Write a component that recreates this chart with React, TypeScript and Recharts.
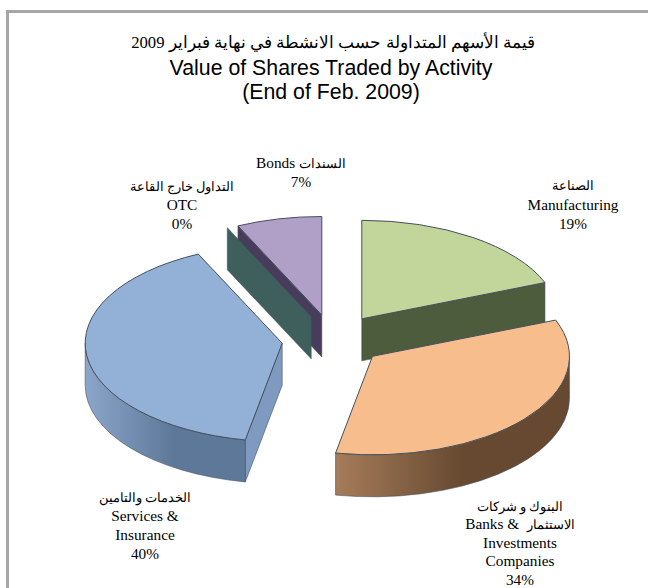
import { Pie, PieChart } from "recharts";

const CATEGORIES = ["Manufacturing", "Banks", "Services", "OTC", "Bonds"];
const SHARES = [19, 34, 40, 0, 7];

const TITLE_LINES = [
  "قيمة الأسهم المتداولة حسب الانشطة في نهاية فبراير 2009",
  "Value of Shares Traded by Activity",
  "(End of Feb. 2009)",
];

const LABEL_LINES = [
  ["الصناعة", "Manufacturing", "19%"],
  ["البنوك و شركات", "Banks &\u00a0\u00a0الاستثمار", "Investments", "Companies", "34%"],
  ["الخدمات والتامين", "Services &", "Insurance", "40%"],
  ["التداول خارج القاعة", "OTC", "0%"],
  ["Bonds السندات", "7%"],
];

const LABEL_X = [573, 520, 145, 182, 301];
const LABEL_Y = [190, 511, 502, 191, 168];
const LABEL_STEP = [19.5, 18.4, 19, 19, 19];

const TOP_COLORS = ["#c2d69b", "#f8bd8c", "#93b1d7", "#3e5f5c", "#b09fc6"];
const WALL_COLORS = ["#4e5c3e", "#6d4e36", "#7f9ac0", "#3e5f5c", "#483c5c"];
const RIM_LEFT = ["#4e5c3e", "#a67c5a", "#8ba6c8", "#3e5f5c", "#483c5c"];
const RIM_RIGHT = ["#4e5c3e", "#664930", "#5d7899", "#3e5f5c", "#483c5c"];

const WIDTH = 648;
const HEIGHT = 588;
const RX = 197;
const TILT = 0.5;
const DEPTH = 42;
const EXPLODE = 0.26;

const pieData = CATEGORIES.map((name, i) => ({ name, value: SHARES[i] }));

const rad = (deg: number) => (deg * Math.PI) / 180;

function Slice3D(props: any) {
  const { cx, cy, outerRadius, startAngle, endAngle, name } = props;
  const i = CATEGORIES.indexOf(name);
  const rx = outerRadius;
  const ry = outerRadius * TILT;
  const mid = rad((startAngle + endAngle) / 2);
  // the slice is pulled out along its middle angle
  const ax = cx + EXPLODE * rx * Math.cos(mid);
  const ay = cy - EXPLODE * ry * Math.sin(mid);
  const pt = (deg: number) => [
    ax + rx * Math.cos(rad(deg)),
    ay - ry * Math.sin(rad(deg)),
  ];
  const [sx, sy] = pt(startAngle);
  const [ex, ey] = pt(endAngle);
  const large = Math.abs(startAngle - endAngle) > 180 ? 1 : 0;
  const top = `M${ax},${ay} L${sx},${sy} A${rx},${ry} 0 ${large} 1 ${ex},${ey} Z`;

  const wall = (x: number, y: number) =>
    `M${ax},${ay} L${x},${y} L${x},${y + DEPTH} L${ax},${ay + DEPTH} Z`;
  const showStart = Math.cos(rad(startAngle)) < 0;
  const showEnd = Math.cos(rad(endAngle)) > 0;

  // outer rim, only the part that faces the viewer
  const a1 = Math.min(startAngle, 0);
  const a2 = Math.max(endAngle, -180);
  let rim = "";
  if (a1 > a2) {
    const [x1, y1] = pt(a1);
    const [x2, y2] = pt(a2);
    rim = `M${x1},${y1} A${rx},${ry} 0 0 1 ${x2},${y2} L${x2},${y2 + DEPTH} A${rx},${ry} 0 0 0 ${x1},${y1 + DEPTH} Z`;
  }
  const gradId = `rim-${i}`;
  const edge = "#46505c";

  return (
    <g>
      <defs>
        <linearGradient id={gradId} x1="0" y1="0" x2="1" y2="0">
          <stop offset="0%" stopColor={RIM_LEFT[i]} />
          <stop offset="55%" stopColor={RIM_RIGHT[i]} />
          <stop offset="100%" stopColor={RIM_RIGHT[i]} />
        </linearGradient>
      </defs>
      {showStart && <path d={wall(sx, sy)} fill={WALL_COLORS[i]} stroke={edge} strokeWidth={0.6} />}
      {showEnd && <path d={wall(ex, ey)} fill={WALL_COLORS[i]} stroke={edge} strokeWidth={0.6} />}
      {rim && <path d={rim} fill={`url(#${gradId})`} stroke={edge} strokeWidth={0.6} />}
      {startAngle !== endAngle && <path d={top} fill={TOP_COLORS[i]} stroke={edge} strokeWidth={1} />}
    </g>
  );
}

// the 0% slice sits in front of the wall of Bonds, so it gets painted in a second pass
const isEmptySlice = (props: any) => SHARES[CATEGORIES.indexOf(props.name)] === 0;
const FilledSlice = (props: any) => (isEmptySlice(props) ? <g /> : <Slice3D {...props} />);
const EmptySlice = (props: any) => (isEmptySlice(props) ? <Slice3D {...props} /> : <g />);

// Arabic falls back to a wider font than the reference, so it is set smaller
function LabelLine({ line, size }: { line: string; size: number }) {
  const parts = line.split(/([\u0600-\u06FF][\u0600-\u06FF ]*)/).filter(Boolean);
  return (
    <>
      {parts.map((part, k) => (
        <tspan key={k} fontSize={/[\u0600-\u06FF]/.test(part) ? size : 15.3}>
          {part}
        </tspan>
      ))}
    </>
  );
}

function SliceLabel(props: any) {
  const i = CATEGORIES.indexOf(props.name);
  return (
    <text
      textAnchor="middle"
      fontFamily='"Liberation Serif", serif'
      fontSize={15.3}
      fill="#000"
    >
      {LABEL_LINES[i].map((line, k) => (
        <tspan key={k} x={LABEL_X[i]} y={LABEL_Y[i] + k * LABEL_STEP[i]}>
          <LabelLine line={line} size={13} />
        </tspan>
      ))}
    </text>
  );
}

export default function App() {
  return (
    <div style={{ position: "absolute", left: 0, top: 0, width: WIDTH, height: HEIGHT, overflow: "hidden", background: "#fff" }}>
      <div
        style={{
          position: "absolute",
          left: 6,
          top: 10,
          width: 700,
          height: 700,
          border: "3px solid #a6a6a6",
        }}
      />
      <div style={{ position: "absolute", left: 0, top: 0 }}>
        <PieChart width={WIDTH} height={HEIGHT} margin={{ top: 0, right: 0, bottom: 0, left: 0 }}>
          <text textAnchor="middle" fill="#000">
            <tspan x={333} y={48} fontFamily='"Liberation Serif", serif' fontSize={16.7}>
              {TITLE_LINES[0]}
            </tspan>
            <tspan x={331} y={75} fontFamily='"Liberation Sans", sans-serif' fontSize={21.3}>
              {TITLE_LINES[1]}
            </tspan>
            <tspan x={331} y={99} fontFamily='"Liberation Sans", sans-serif' fontSize={21.3}>
              {TITLE_LINES[2]}
            </tspan>
          </text>
          <Pie
            data={pieData}
            dataKey="value"
            nameKey="name"
            cx={333}
            cy={340}
            innerRadius={0}
            outerRadius={RX}
            startAngle={90}
            endAngle={-270}
            paddingAngle={0}
            stroke="none"
            isAnimationActive={false}
            shape={FilledSlice}
            label={SliceLabel}
            labelLine={false}
          />
          <Pie
            data={pieData}
            dataKey="value"
            nameKey="name"
            cx={333}
            cy={340}
            innerRadius={0}
            outerRadius={RX}
            startAngle={90}
            endAngle={-270}
            paddingAngle={0}
            stroke="none"
            isAnimationActive={false}
            shape={EmptySlice}
            label={false}
            labelLine={false}
          />
        </PieChart>
      </div>
    </div>
  );
}
